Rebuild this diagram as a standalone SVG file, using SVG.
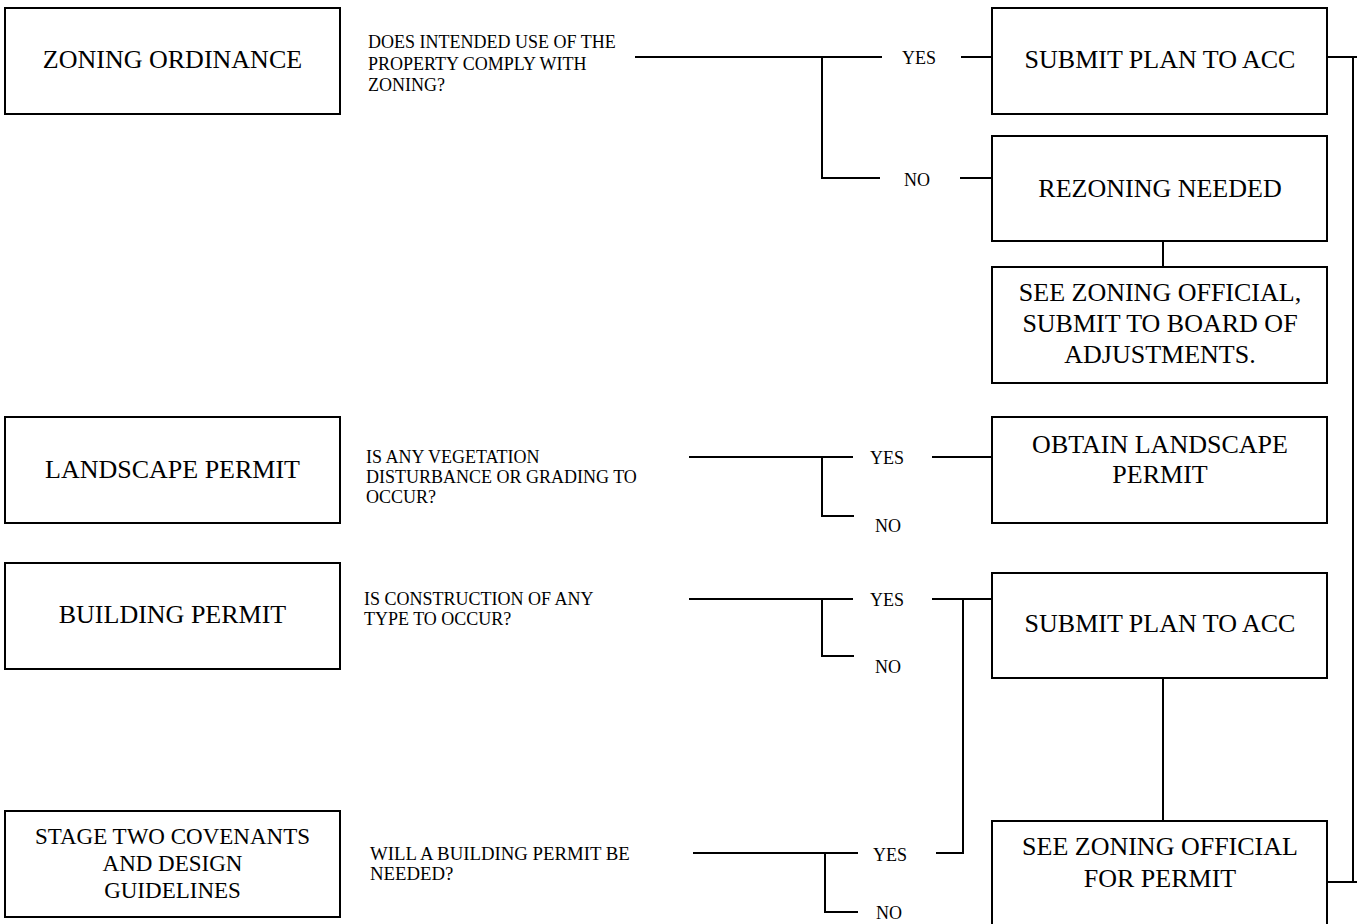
<svg xmlns="http://www.w3.org/2000/svg" width="1360" height="924" viewBox="0 0 1360 924">
<style>
.box{fill:#fff;stroke:#000;stroke-width:2}
.bt{font-family:"Liberation Serif","Times New Roman",serif;font-size:26px;fill:#000;text-anchor:middle}
.bs{font-size:23px}
.q{font-family:"Liberation Serif","Times New Roman",serif;font-size:18px;fill:#000}
.yn{font-family:"Liberation Serif","Times New Roman",serif;font-size:18px;fill:#000}
.c{fill:none;stroke:#000;stroke-width:2}
</style>
<rect width="1360" height="924" fill="#fff"/>
<g id="connectors">
<path class="c" d="M635 57H882M822 57V178H880M961 57H992"/>
<path class="c" d="M960 178H992"/>
<path class="c" d="M1163 241V267"/>
<path class="c" d="M1327 57H1357M1353 57V882M1327 882H1357"/>
<path class="c" d="M689 457H853M822 457V516H854M932 457H992"/>
<path class="c" d="M689 599H853M822 599V656H854M932 599H992M963 599V853H936"/>
<path class="c" d="M1163 678V821"/>
<path class="c" d="M693 853H858M825 853V912H858"/>
</g>
<g id="labels">
<text class="yn" x="902" y="64">YES</text>
<text class="yn" x="904" y="186">NO</text>
<text class="yn" x="870" y="464">YES</text>
<text class="yn" x="875" y="532">NO</text>
<text class="yn" x="870" y="606">YES</text>
<text class="yn" x="875" y="673">NO</text>
<text class="yn" x="873" y="861">YES</text>
<text class="yn" x="876" y="919">NO</text>
</g>
<g id="zoning-ordinance">
<rect class="box" x="5" y="8" width="335" height="106"/>
<text class="bt" x="172.5" y="68">ZONING ORDINANCE</text>
</g>
<g id="q-zoning">
<text class="q" x="368" y="48">DOES INTENDED USE OF THE</text>
<text class="q" x="368" y="70">PROPERTY COMPLY WITH</text>
<text class="q" x="368" y="91">ZONING?</text>
</g>
<g id="submit-acc-1">
<rect class="box" x="992" y="8" width="335" height="106"/>
<text class="bt" x="1160" y="68">SUBMIT PLAN TO ACC</text>
</g>
<g id="rezoning">
<rect class="box" x="992" y="136" width="335" height="105"/>
<text class="bt" x="1160" y="197">REZONING NEEDED</text>
</g>
<g id="see-zoning-board">
<rect class="box" x="992" y="267" width="335" height="116"/>
<text class="bt" x="1160" y="301">SEE ZONING OFFICIAL,</text>
<text class="bt" x="1160" y="332">SUBMIT TO BOARD OF</text>
<text class="bt" x="1160" y="363">ADJUSTMENTS.</text>
</g>
<g id="landscape-permit">
<rect class="box" x="5" y="417" width="335" height="106"/>
<text class="bt" x="172.5" y="478">LANDSCAPE PERMIT</text>
</g>
<g id="q-landscape">
<text class="q" x="366" y="463">IS ANY VEGETATION</text>
<text class="q" x="366" y="483">DISTURBANCE OR GRADING TO</text>
<text class="q" x="366" y="503">OCCUR?</text>
</g>
<g id="obtain-landscape">
<rect class="box" x="992" y="417" width="335" height="106"/>
<text class="bt" x="1160" y="453">OBTAIN LANDSCAPE</text>
<text class="bt" x="1160" y="483">PERMIT</text>
</g>
<g id="building-permit">
<rect class="box" x="5" y="563" width="335" height="106"/>
<text class="bt" x="172.5" y="623">BUILDING PERMIT</text>
</g>
<g id="q-building">
<text class="q" x="364" y="605">IS CONSTRUCTION OF ANY</text>
<text class="q" x="364" y="625">TYPE TO OCCUR?</text>
</g>
<g id="submit-acc-2">
<rect class="box" x="992" y="573" width="335" height="105"/>
<text class="bt" x="1160" y="632">SUBMIT PLAN TO ACC</text>
</g>
<g id="stage-two">
<rect class="box" x="5" y="811" width="335" height="106"/>
<text class="bt bs" x="172.5" y="844">STAGE TWO COVENANTS</text>
<text class="bt bs" x="172.5" y="871">AND DESIGN</text>
<text class="bt bs" x="172.5" y="898">GUIDELINES</text>
</g>
<g id="q-stage-two">
<text class="q" x="370" y="860" style="font-size:18.8px">WILL A BUILDING PERMIT BE</text>
<text class="q" x="370" y="880" style="font-size:18.8px">NEEDED?</text>
</g>
<g id="see-zoning-permit">
<rect class="box" x="992" y="821" width="335" height="130"/>
<text class="bt" x="1160" y="855">SEE ZONING OFFICIAL</text>
<text class="bt" x="1160" y="887">FOR PERMIT</text>
</g>
</svg>
